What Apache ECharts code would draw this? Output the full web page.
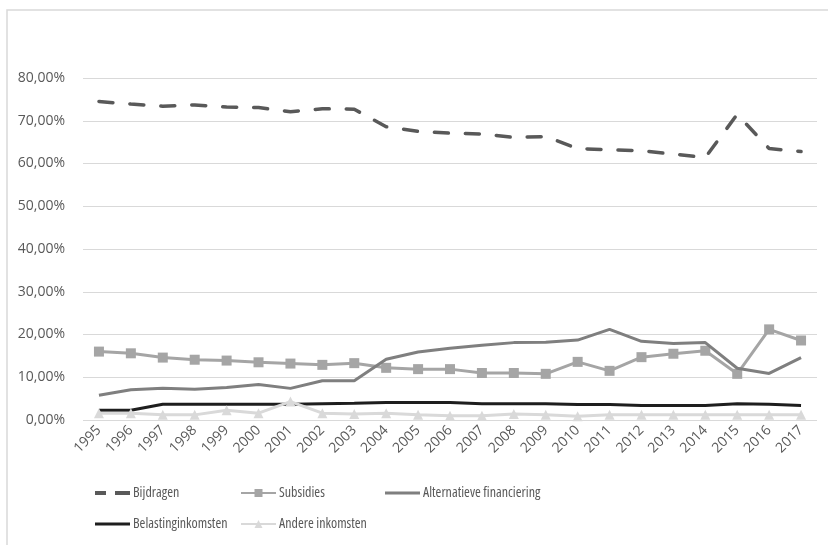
<!DOCTYPE html>
<html>
<head>
<meta charset="utf-8">
<script src="https://cdn.jsdelivr.net/npm/echarts@6/dist/echarts.min.js"></script>
<style>
  html, body { margin: 0; padding: 0; background: #fff; }
  #chart { width: 828px; height: 545px; }
</style>
</head>
<body>
<div id="chart"></div>
<script>
// Years on the category axis
const years = ['1995','1996','1997','1998','1999','2000','2001','2002','2003','2004','2005','2006',
  '2007','2008','2009','2010','2011','2012','2013','2014','2015','2016','2017'];

// Share of total income per source, in percent
const bijdragen = [74.5,73.9,73.4,73.7,73.2,73.1,72.1,72.8,72.7,68.6,67.5,67.1,66.9,66.1,66.3,63.5,63.2,63.0,62.2,61.4,71.5,63.5,62.8];
const subsidies = [16.0,15.6,14.6,14.1,13.9,13.5,13.2,12.9,13.3,12.2,11.9,11.9,11.0,11.0,10.8,13.6,11.5,14.7,15.5,16.2,10.8,21.2,18.6];
const alternatieveFinanciering = [5.8,7.1,7.4,7.2,7.6,8.3,7.4,9.2,9.2,14.2,15.9,16.8,17.5,18.1,18.2,18.7,21.2,18.4,17.9,18.1,12.1,10.9,14.6];
const belastinginkomsten = [2.3,2.3,3.7,3.7,3.7,3.7,3.7,3.8,3.9,4.1,4.1,4.1,3.8,3.8,3.8,3.6,3.6,3.4,3.4,3.4,3.8,3.7,3.4];
const andereInkomsten = [1.6,1.6,1.2,1.2,2.3,1.6,4.3,1.6,1.4,1.6,1.2,1.0,1.0,1.4,1.2,0.9,1.2,1.2,1.2,1.2,1.2,1.2,1.2];

// Value axis ticks
const yMin = 0, yMax = 80, yStep = 10;

const axisFont = 'Open Sans, Segoe UI, sans-serif';
const legendFont = 'Open Sans, sans-serif';
const textColor = '#595959';

// Legend swatches for the plain lines (no marker)
const dashIcon = 'path://M0,0h11v4h-11z M20,0h15v4h-15z';
const lineIcon = 'rect';

function legendAt(name, left, rowCenter, opts) {
  const h = (opts && opts.itemHeight) || 10;
  const item = { name: name };
  if (opts && opts.icon) item.icon = opts.icon;
  return {
    data: [item],
    left: left,
    top: rowCenter - 9,
    orient: 'horizontal',
    itemWidth: 35,
    itemHeight: h,
    itemGap: 0,
    padding: 0,
    selectedMode: false,
    textStyle: {
      fontFamily: legendFont,
      fontStyle: 'normal condensed',
      fontSize: 14,
      lineHeight: 18,
      color: textColor,
      padding: [0, 0, 0, -2]
    }
  };
}

const chart = echarts.init(document.getElementById('chart'), null, { renderer: 'canvas' });

chart.setOption({
  animation: false,
  backgroundColor: '#ffffff',
  graphic: [{
    type: 'rect',
    shape: { x: 7, y: 10, width: 900, height: 700 },
    style: { fill: 'none', stroke: '#d9d9d9', lineWidth: 1.5 },
    silent: true,
    z: -1
  }],
  grid: { left: 83, right: 11, top: 78, bottom: 125, containLabel: false },
  legend: [
    legendAt('Bijdragen', 95, 493, { icon: dashIcon, itemHeight: 4 }),
    legendAt('Subsidies', 240, 493),
    legendAt('Alternatieve financiering', 385, 493, { icon: lineIcon, itemHeight: 3 }),
    legendAt('Belastinginkomsten', 95, 524, { icon: lineIcon, itemHeight: 3 }),
    legendAt('Andere inkomsten', 240, 524)
  ],
  xAxis: {
    type: 'category',
    data: years,
    boundaryGap: true,
    axisLine: { show: false },
    axisTick: { show: false },
    axisLabel: {
      rotate: 45,
      margin: 8,
      fontFamily: axisFont,
      fontSize: 14,
      color: textColor,
      interval: 0
    },
    splitLine: { show: false }
  },
  yAxis: {
    type: 'value',
    min: yMin,
    max: yMax,
    interval: yStep,
    axisLine: { show: false },
    axisTick: { show: false },
    axisLabel: {
      margin: 18,
      fontFamily: axisFont,
      fontSize: 14,
      color: textColor,
      formatter: v => v.toFixed(2).replace('.', ',') + '%'
    },
    splitLine: { lineStyle: { color: '#d9d9d9', width: 1 } }
  },
  series: [
    {
      name: 'Bijdragen',
      type: 'line',
      data: bijdragen,
      symbol: 'none',
      color: '#595959',
      lineStyle: { color: '#595959', width: 3.5, type: [14, 17], cap: 'round' },
      z: 2
    },
    {
      name: 'Subsidies',
      type: 'line',
      data: subsidies,
      symbol: 'rect',
      symbolSize: 10,
      color: '#a5a5a5',
      itemStyle: { color: '#a5a5a5' },
      lineStyle: { color: '#a5a5a5', width: 3 },
      z: 3
    },
    {
      name: 'Alternatieve financiering',
      type: 'line',
      data: alternatieveFinanciering,
      symbol: 'none',
      color: '#7f7f7f',
      lineStyle: { color: '#7f7f7f', width: 3 },
      z: 4
    },
    {
      name: 'Belastinginkomsten',
      type: 'line',
      data: belastinginkomsten,
      symbol: 'none',
      color: '#1e1e1e',
      lineStyle: { color: '#1e1e1e', width: 3 },
      z: 5
    },
    {
      name: 'Andere inkomsten',
      type: 'line',
      data: andereInkomsten,
      symbol: 'triangle',
      symbolSize: 10,
      color: '#d9d9d9',
      itemStyle: { color: '#d9d9d9' },
      lineStyle: { color: '#d9d9d9', width: 3 },
      z: 6
    }
  ]
});
</script>
</body>
</html>
